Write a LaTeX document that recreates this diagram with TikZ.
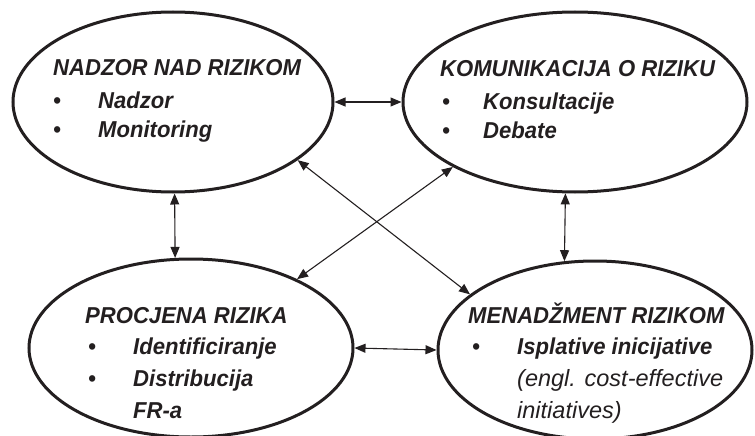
\documentclass[tikz,border=0pt]{standalone}
\usepackage{fontspec}
\setmainfont{Liberation Sans}
\newfontfamily\condfont{Liberation Sans}[FakeStretch=0.96]
\usetikzlibrary{arrows.meta,shapes.geometric}
\definecolor{ink}{HTML}{231F20}
\begin{document}
\begin{tikzpicture}[x=1pt,y=-1pt,
  oval/.style={draw=ink,ellipse,line width=3pt,inner sep=0pt},
  lbl/.style={anchor=base west,inner sep=0pt,text=ink,font=\condfont\fontsize{23}{27}\selectfont\bfseries\itshape},
  lblr/.style={anchor=base west,inner sep=0pt,text=ink,font=\fontsize{23.5}{27}\selectfont\itshape},
  conn/.style={draw=ink,line width=1.1pt,{Triangle[length=11pt,width=9pt]}-{Triangle[length=11pt,width=9pt]}}]
\useasboundingbox (0,0) rectangle (755,436);
\node[oval,minimum width=320pt,minimum height=180pt] (n1) at (173,102) {};
\node[oval,minimum width=344pt,minimum height=180pt] (n2) at (575,102) {};
\node[oval,minimum width=324pt,minimum height=178pt] (n3) at (191,348) {};
\node[oval,minimum width=314pt,minimum height=178pt] (n4) at (595,350) {};
% texts
\node[lbl] (a0) at (53,76) {NADZOR NAD RIZIKOM};
\node[lbl] (a1b) at (53,108) {•};
\node[lbl] (a1) at (98,108) {Nadzor};
\node[lbl] (a2b) at (53,137) {•};
\node[lbl] (a2) at (98,137) {Monitoring};
\node[lbl] (b0) at (440,77) {KOMUNIKACIJA O RIZIKU};
\node[lbl] (b1b) at (442,109) {•};
\node[lbl] (b1) at (483,109) {Konsultacije};
\node[lbl] (b2b) at (442,138) {•};
\node[lbl] (b2) at (483,138) {Debate};
\node[lbl] (c0) at (85,323) {PROCJENA RIZIKA};
\node[lbl] (c1b) at (88,354) {•};
\node[lbl] (c1) at (133,354) {Identificiranje};
\node[lbl] (c2b) at (88,386) {•};
\node[lbl] (c2) at (133,386) {Distribucija};
\node[lbl] (c3) at (133,418) {FR-a};
\node[lbl] (d0) at (468,323) {MENADŽMENT RIZIKOM};
\node[lbl] (d1b) at (472,354) {•};
\node[lbl] (d1) at (517,354) {Isplative inicijative};
\node[lblr] (d2) at (517,386) {(engl. cost-effective};
\node[lblr] (d3) at (517,418) {initiatives)};
% connectors
\draw[conn] (n1.east) -- (n2.west);
\draw[conn] (n3.east) -- (n4.west);
\draw[conn] (n1.-89) -- (n3.100);
\draw[conn] (n2.-96) -- (n4.109);
\draw[conn] (n1.-25) -- (n4.156);
\draw[conn] (n3.33) -- (n2.-152);
\end{tikzpicture}
\end{document}
